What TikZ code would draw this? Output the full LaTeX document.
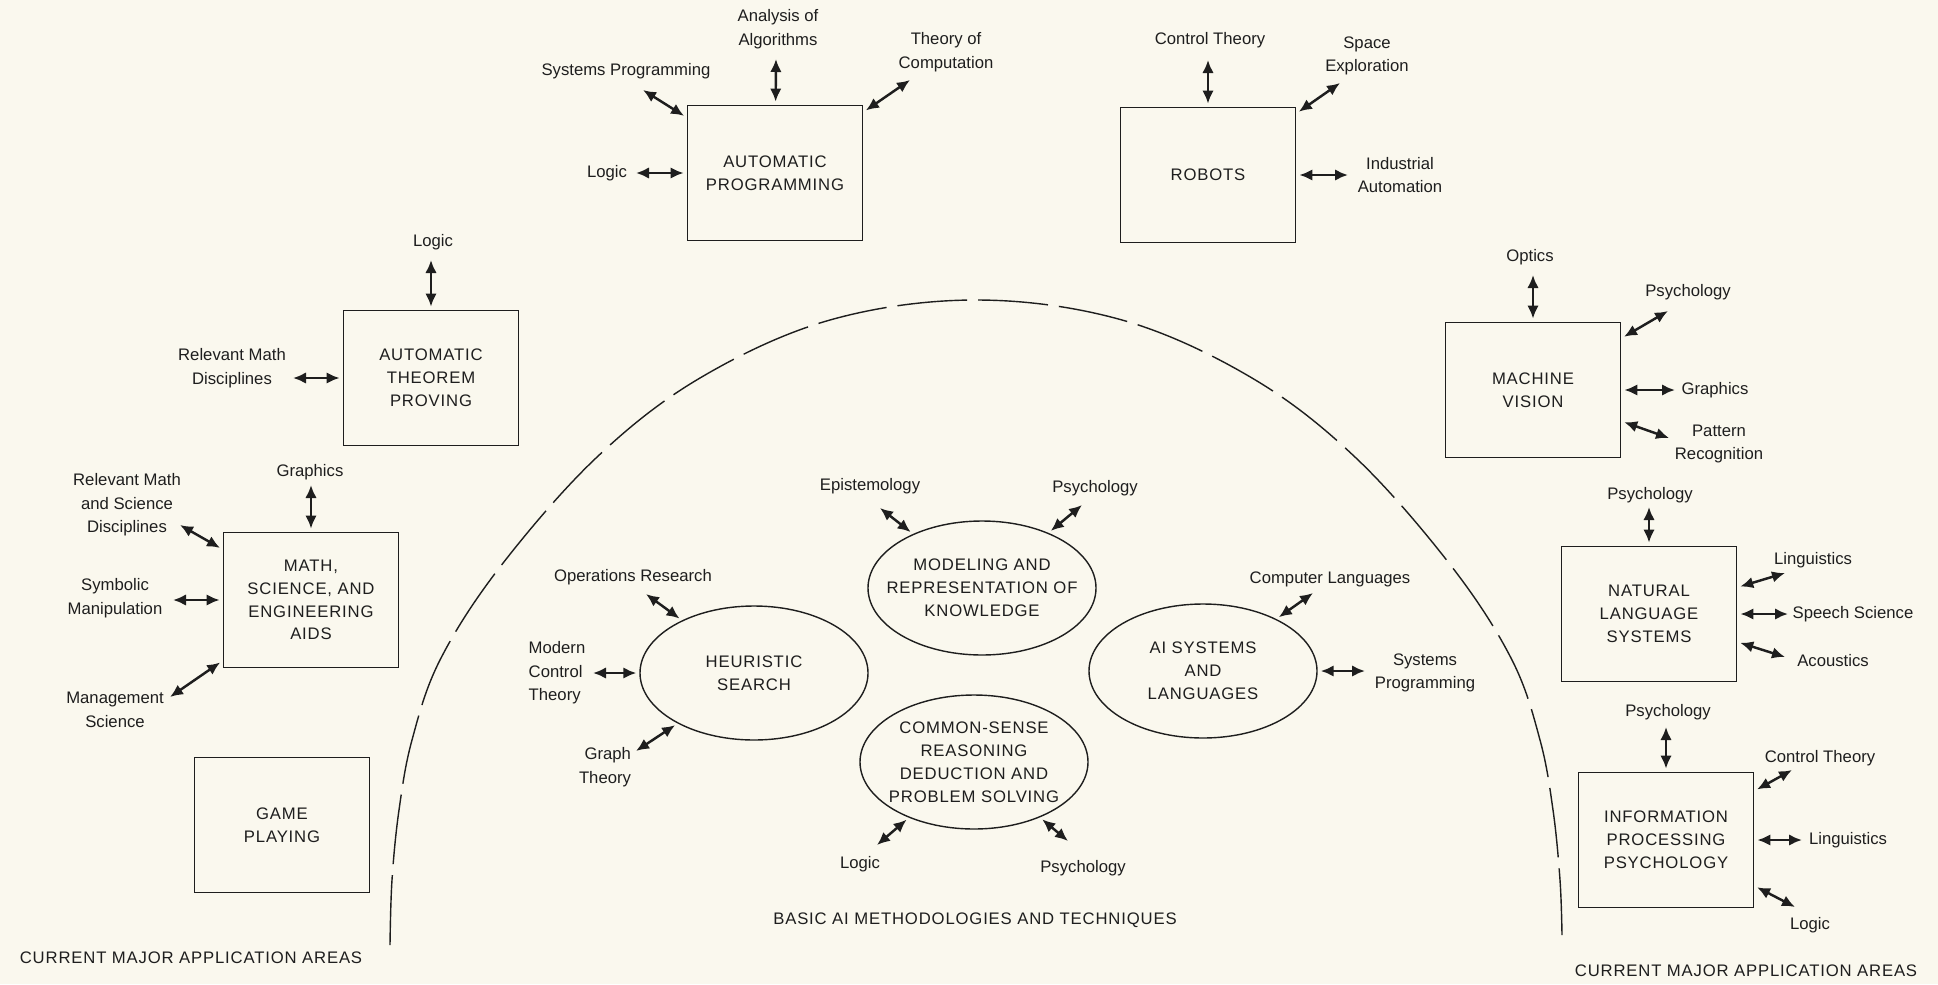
\documentclass[tikz,border=0pt]{standalone}
\usepackage{fontspec}
\setmainfont{Liberation Sans}
\newfontfamily\capsfont[LetterSpace=5]{Liberation Sans}
\usepackage{xcolor}
\usepackage{tikz}
\usetikzlibrary{arrows.meta, shapes.geometric}

\definecolor{paper}{RGB}{250,248,238}
\definecolor{ink}{RGB}{30,30,30}

\tikzset{
    area/.style={draw=ink, line width=1pt, minimum width=35mm, minimum height=27mm,
        align=center, text=ink, font=\capsfont\fontsize{9.5}{13}\selectfont},
    method/.style={ellipse, draw=ink, line width=0.8pt, minimum width=45.6mm,
        minimum height=26.8mm, inner sep=-1cm, align=center, text=ink,
        font=\capsfont\fontsize{9.5}{13}\selectfont},
    lbl/.style={inner sep=1pt, text=ink, font=\fontsize{9.5}{13.3}\selectfont},
    caption/.style={inner sep=1pt, text=ink, font=\capsfont\fontsize{9.5}{12}\selectfont},
    link/.style={<->, draw=ink, line width=1.4pt, shorten >=0.6mm}
}

\begin{document}
\begin{tikzpicture}[>={Latex[length=2.6mm, width=2.3mm]}, x=0.2mm, y=-0.2mm]
    \useasboundingbox (0,0) rectangle (1938,984);
    \fill[paper] (0,0) rectangle (1938,984);

    % Vùng ứng dụng (hộp chữ nhật)
    \foreach \n/\x/\y/\t in {
        ap/775/173/{AUTOMATIC\\PROGRAMMING},
        rob/1208/175/{ROBOTS},
        atp/431/378/{AUTOMATIC\\THEOREM\\PROVING},
        math/311/600/{MATH,\\SCIENCE, AND\\ENGINEERING\\AIDS},
        game/282/825/{GAME\\PLAYING},
        mv/1533/390/{MACHINE\\VISION},
        nl/1649/614/{NATURAL\\LANGUAGE\\SYSTEMS},
        ipp/1666/840/{INFORMATION\\PROCESSING\\PSYCHOLOGY}} {
        \node[area] (\n) at (\x,\y) {\t};
    }

    % Phương pháp cơ bản (hình elip)
    \foreach \n/\x/\y/\t in {
        hs/754/673/{HEURISTIC\\SEARCH},
        mrk/982/588/{MODELING AND\\REPRESENTATION OF\\KNOWLEDGE},
        ais/1203/671/{AI SYSTEMS\\AND\\LANGUAGES},
        csr/974/762/{COMMON-SENSE\\REASONING\\DEDUCTION AND\\PROBLEM SOLVING}} {
        \node[method] (\n) at (\x,\y) {\t};
    }

    % Các ngành liên quan và mũi tên hai chiều
    \foreach \n/\x/\y/\tx/\ty/\b/\a/\t in {
        apAlg/778/29/776/59/ap/center/{Analysis of\\Algorithms},
        apSys/626/71/643/90/ap/center/{Systems Programming},
        apThe/946/52/910/80/ap/center/{Theory of\\Computation},
        apLog/607/173/636/173/ap/center/{Logic},
        roCon/1210/40/1208/60/rob/center/{Control Theory},
        roSpa/1367/56/1340/83/rob/center/{Space\\Exploration},
        roInd/1400/175/1348/175/rob/center/{Industrial\\Automation},
        atLog/433/242/431/260/atp/center/{Logic},
        atRel/232/368/293/378/atp/center/{Relevant Math\\Disciplines},
        maGra/310/472/311/485/math/center/{Graphics},
        maRel/127/505/180/525/math/center/{Relevant Math\\and Science\\Disciplines},
        maSym/115/598/173/600/math/center/{Symbolic\\Manipulation},
        maMan/115/710/170/697/math/center/{Management\\Science},
        mvOpt/1530/257/1533/275/mv/center/{Optics},
        mvPsy/1688/292/1668/311/mv/center/{Psychology},
        mvGra/1715/390/1675/390/mv/center/{Graphics},
        mvPat/1719/444/1669/438/mv/center/{Pattern\\Recognition},
        nlPsy/1650/495/1649/507/nl/center/{Psychology},
        nlLin/1813/560/1785/573/nl/center/{Linguistics},
        nlSpe/1853/614/1788/614/nl/center/{Speech Science},
        nlAco/1833/661/1785/657/nl/center/{Acoustics},
        ipPsy/1668/712/1666/727/ipp/center/{Psychology},
        ipCon/1820/758/1792/770/ipp/center/{Control Theory},
        ipLin/1848/840/1802/840/ipp/center/{Linguistics},
        ipLog/1810/925/1795/907/ipp/center/{Logic},
        hsOpe/633/577/646/594/hs/center/{Operations Research},
        hsMod/557/673/593/673/hs/left/{Modern\\Control\\Theory},
        hsGra/605/767/636/751/hs/right/{Graph\\Theory},
        mrEpi/870/486/880/508/mrk/center/{Epistemology},
        mrPsy/1095/488/1082/505/mrk/center/{Psychology},
        aiCom/1330/579/1313/593/ais/center/{Computer Languages},
        aiSys/1425/673/1365/671/ais/center/{Systems\\Programming},
        csLog/860/864/877/845/csr/center/{Logic},
        csPsy/1083/868/1068/841/csr/center/{Psychology}} {
        \node[lbl, align=\a] (\n) at (\x,\y) {\t};
        \coordinate (\n-e) at (\tx,\ty);
        \draw[link] (\n-e) -- (\b);
    }

    % Đường biên nét đứt
    \draw[ink, line width=0.8pt, dash pattern=on 14mm off 2.2mm]
        plot[smooth, tension=0.6] coordinates {(390,945) (392,880) (399,810)
        (412,740) (440,660) (500,567) (596,458) (700,378) (830,320) (976,300)
        (1122,320) (1252,378) (1356,458) (1452,567) (1512,660) (1540,740)
        (1553,810) (1560,880) (1562,935)};

    % Chú thích
    \node[caption] (capL) at (191,958) {CURRENT MAJOR APPLICATION AREAS};
    \node[caption] (capR) at (1746,971) {CURRENT MAJOR APPLICATION AREAS};
    \node[caption] (basic) at (975,920) {BASIC AI METHODOLOGIES AND TECHNIQUES};
\end{tikzpicture}
\end{document}
